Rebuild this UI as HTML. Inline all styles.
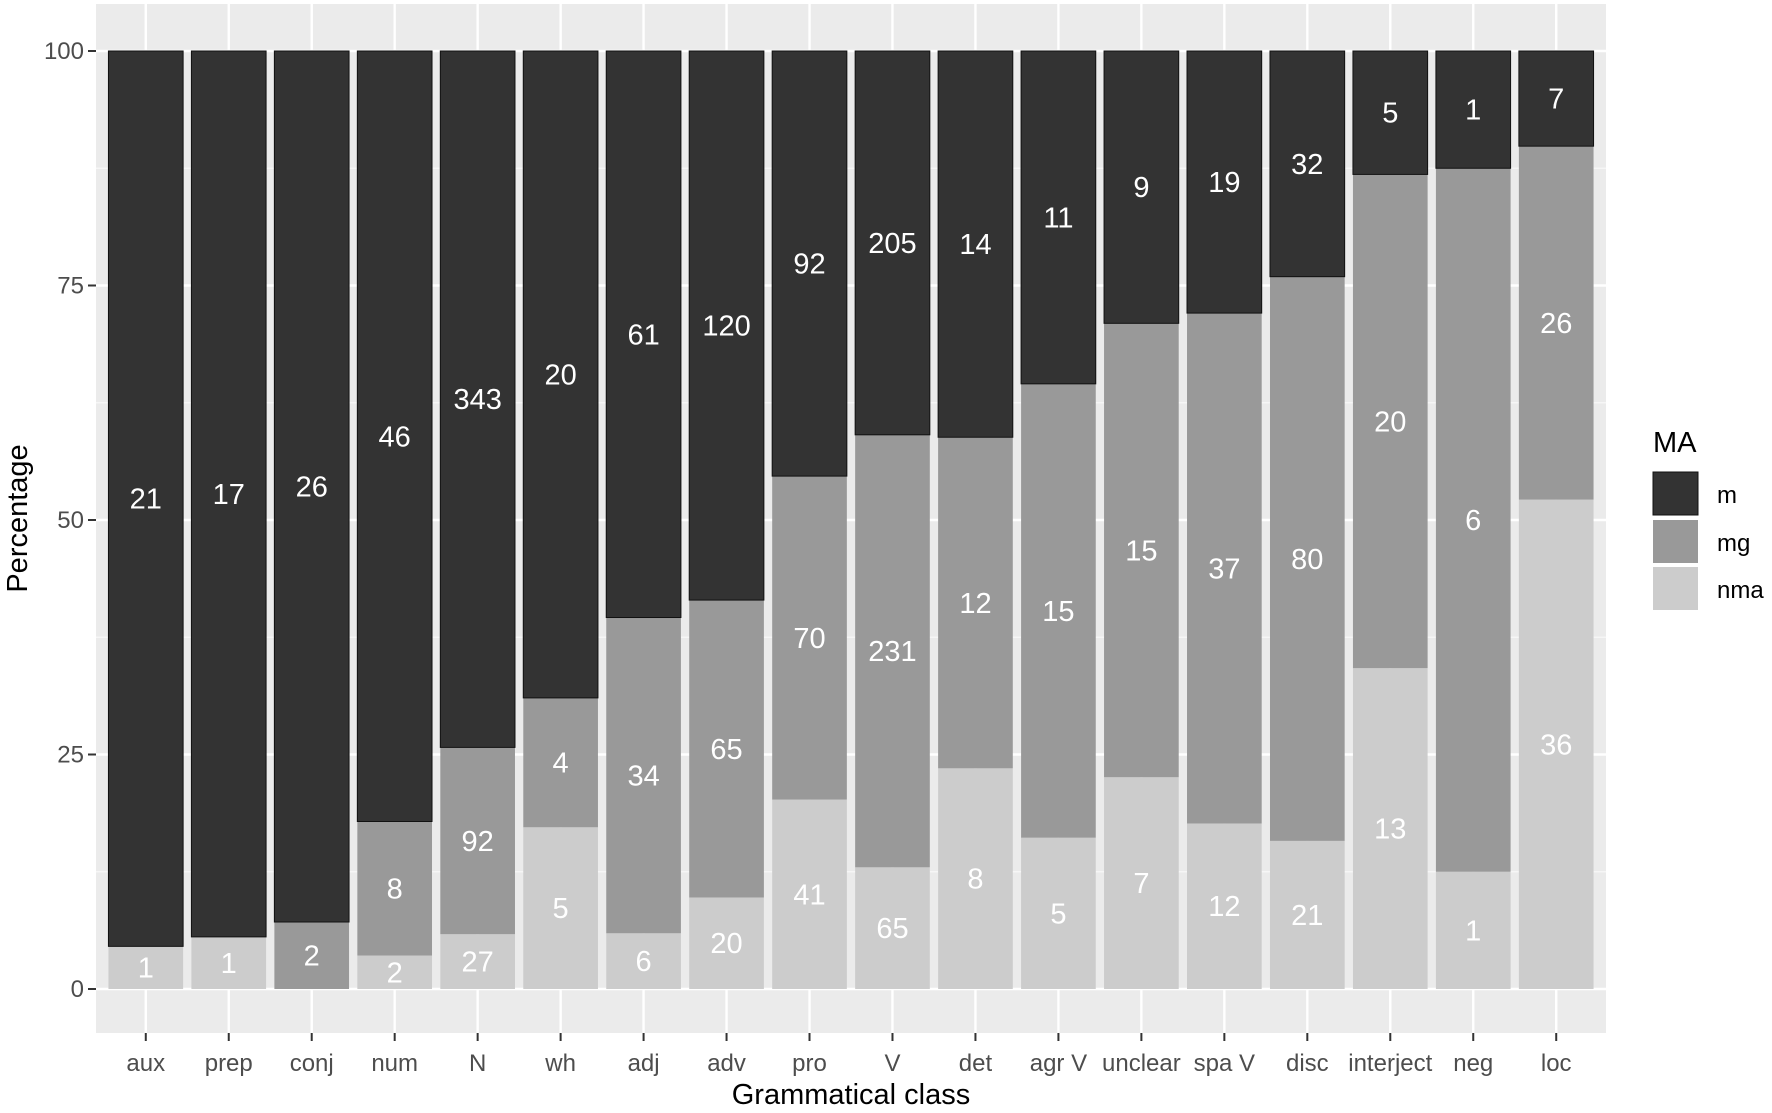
<!DOCTYPE html>
<html><head><meta charset="utf-8"><style>
html,body{margin:0;padding:0;background:#fff;}
svg{display:block;font-family:"Liberation Sans",Arial,sans-serif;}
</style></head><body>
<svg id="c" width="1772" height="1113" xmlns="http://www.w3.org/2000/svg"></svg>
<script>
const data=[["aux",21,0,1],["prep",17,0,1],["conj",26,2,0],["num",46,8,2],["N",343,92,27],["wh",20,4,5],["adj",61,34,6],["adv",120,65,20],["pro",92,70,41],["V",205,231,65],["det",14,12,8],["agr V",11,15,5],["unclear",9,15,7],["spa V",19,37,12],["disc",32,80,21],["interject",5,20,13],["neg",1,6,1],["loc",7,26,36]];
const L=96,R=1606,T=4,B=1033,y0=989,y100=51;
const Y=p=>y0-(y0-y100)*p/100;
const step=(R-L)/18.2, bw=step*0.9;
const X=i=>L+step*(0.6+i);
let s=`<rect x="${L}" y="${T}" width="${R-L}" height="${B-T}" fill="#EBEBEB"/>`;
for(let p=12.5;p<100;p+=25)s+=`<line x1="${L}" x2="${R}" y1="${Y(p)}" y2="${Y(p)}" stroke="#F7F7F7" stroke-width="1.2"/>`;
for(let p=0;p<=100;p+=25)s+=`<line x1="${L}" x2="${R}" y1="${Y(p)}" y2="${Y(p)}" stroke="#fff" stroke-width="2.4"/>`;
data.forEach((d,i)=>s+=`<line x1="${X(i)}" x2="${X(i)}" y1="${T}" y2="${B}" stroke="#fff" stroke-width="2.4"/>`);
const cols={m:"#333333",mg:"#999999",nma:"#CCCCCC"};
data.forEach((d,i)=>{
 const [n,m,mg,nma]=d, tot=m+mg+nma;
 const segs=[["nma",nma],["mg",mg],["m",m]];
 let acc=0; const x=X(i)-bw/2;
 segs.forEach(([k,v])=>{ if(!v)return;
  const p0=acc/tot*100, p1=(acc+v)/tot*100; acc+=v;
  s+=`<rect x="${x}" y="${Y(p1)}" width="${bw}" height="${Y(p0)-Y(p1)}" fill="${cols[k]}"${k=='m'?' stroke="#111" stroke-width="1"':''}/>`;
 });
 acc=0;
 segs.forEach(([k,v])=>{ if(!v)return;
  const pm=(acc+v/2)/tot*100; acc+=v;
  s+=`<text x="${X(i)}" y="${Y(pm)+10}" font-size="29" fill="#fff" text-anchor="middle">${v}</text>`;
 });
 s+=`<line x1="${X(i)}" x2="${X(i)}" y1="${B}" y2="${B+8}" stroke="#333" stroke-width="2"/>`;
 s+=`<text x="${X(i)}" y="${1071}" font-size="24" fill="#4D4D4D" text-anchor="middle">${n}</text>`;
});
for(let p=0;p<=100;p+=25){
 s+=`<line x1="${L-8}" x2="${L}" y1="${Y(p)}" y2="${Y(p)}" stroke="#333" stroke-width="2"/>`;
 s+=`<text x="${L-12}" y="${Y(p)+8}" font-size="24" fill="#4D4D4D" text-anchor="end">${p}</text>`;
}
s+=`<text x="${(L+R)/2}" y="1104" font-size="29" fill="#000" text-anchor="middle">Grammatical class</text>`;
s+=`<text transform="translate(27,${(T+B)/2}) rotate(-90)" font-size="29" fill="#000" text-anchor="middle">Percentage</text>`;
s+=`<text x="1653" y="452" font-size="29" fill="#000">MA</text>`;
[["m",472],["mg",520],["nma",567]].forEach(([k,y])=>{
 s+=`<rect x="1653" y="${y}" width="45" height="43" fill="${cols[k]}"${k=='m'?' stroke="#111" stroke-width="1"':''}/>`;
 s+=`<text x="1717" y="${y+31}" font-size="24" fill="#000">${k}</text>`;
});
document.getElementById('c').innerHTML=s;
</script>
</body></html>
